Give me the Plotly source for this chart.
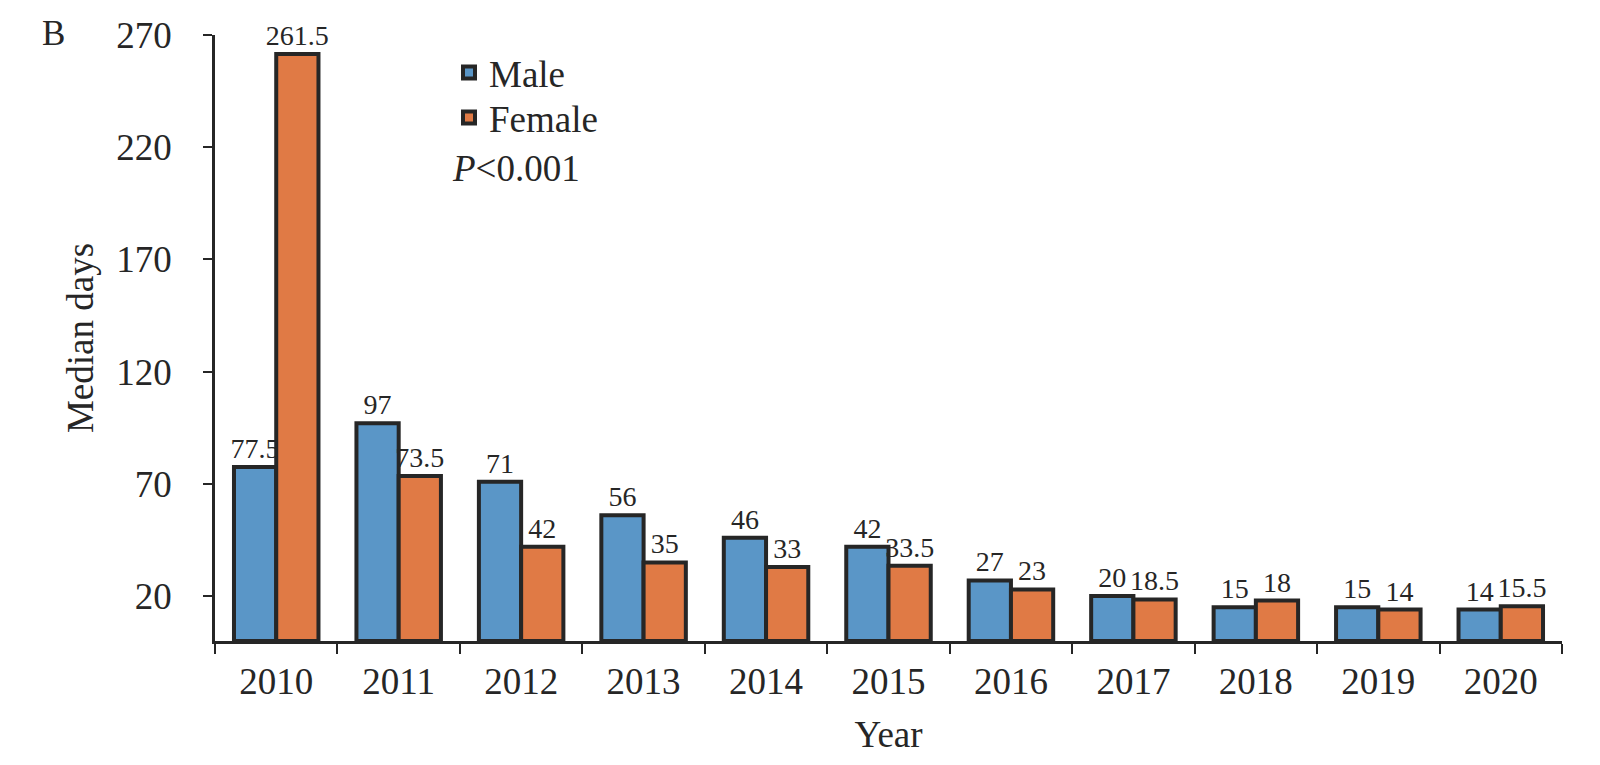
import plotly.graph_objects as go

years = ["2010", "2011", "2012", "2013", "2014", "2015", "2016", "2017", "2018", "2019", "2020"]
male = [77.5, 97, 71, 56, 46, 42, 27, 20, 15, 15, 14]
female = [261.5, 73.5, 42, 35, 33, 33.5, 23, 18.5, 18, 14, 15.5]
ytick_vals = [20, 70, 120, 170, 220, 270]

FONT = "Liberation Serif, Times New Roman, serif"
DARK = "#262626"
BLUE = "#5A96C7"
ORANGE = "#E07A45"

W, H = 1582, 747
L, R, T, B = 207, 28, 27, 114
PW, PH = W - L - R, H - T - B


def px_x(page_x):
    return (page_x - 8 - L) / PW


def px_y(page_y):
    return 1 - (page_y - 8 - T) / PH


def lbl(v):
    return [("%g" % x) for x in v]


fig = go.Figure()
fig.add_trace(go.Bar(
    x=years, y=male, name="Male", legend="legend",
    marker=dict(color=BLUE, line=dict(color=DARK, width=4)),
    text=lbl(male), textposition="outside", cliponaxis=False, constraintext="none",
    textfont=dict(family=FONT, size=28, color=DARK),
))
fig.add_trace(go.Bar(
    x=years, y=female, name="Female", legend="legend2",
    marker=dict(color=ORANGE, line=dict(color=DARK, width=4)),
    text=lbl(female), textposition="outside", cliponaxis=False, constraintext="none",
    textfont=dict(family=FONT, size=28, color=DARK),
))

leg_common = dict(xanchor="left", yanchor="middle",
                  font=dict(family=FONT, size=37, color=DARK),
                  bgcolor="rgba(0,0,0,0)")

fig.update_layout(
    width=W, height=H,
    margin=dict(l=L, r=R, t=T, b=B),
    paper_bgcolor="white", plot_bgcolor="white",
    barmode="group", bargap=0.31, bargroupgap=0,
    font=dict(family=FONT, color=DARK, size=37),
    showlegend=True,
    legend=dict(x=px_x(449), y=px_y(73), **leg_common),
    legend2=dict(x=px_x(449), y=px_y(118), **leg_common),
    xaxis=dict(
        type="category",
        showline=True, linecolor=DARK, linewidth=2.5,
        ticks="outside", tickson="boundaries", ticklen=10, tickwidth=2, tickcolor=DARK,
        tickfont=dict(family=FONT, size=37, color=DARK),
        ticklabelstandoff=6,
        title=dict(text="Year", font=dict(family=FONT, size=37, color=DARK), standoff=20),
        showgrid=False, zeroline=False, automargin=False,
    ),
    yaxis=dict(
        range=[0, 270],
        tickvals=ytick_vals,
        showline=True, linecolor=DARK, linewidth=2.5,
        ticks="outside", ticklen=9, tickwidth=2, tickcolor=DARK,
        tickfont=dict(family=FONT, size=37, color=DARK),
        ticklabelstandoff=24,
        title=dict(text="Median days", font=dict(family=FONT, size=37, color=DARK), standoff=12),
        showgrid=False, zeroline=False, automargin=False,
    ),
    annotations=[
        dict(text="B", x=px_x(53), y=px_y(33), xref="paper", yref="paper",
             xanchor="center", yanchor="middle", showarrow=False,
             font=dict(family=FONT, size=35, color=DARK)),
        dict(text="<i>P</i>&lt;0.001", x=px_x(450), y=px_y(168), xref="paper", yref="paper",
             xanchor="left", yanchor="middle", showarrow=False,
             font=dict(family=FONT, size=37, color=DARK)),
    ],
)

fig.write_html("out.html")
